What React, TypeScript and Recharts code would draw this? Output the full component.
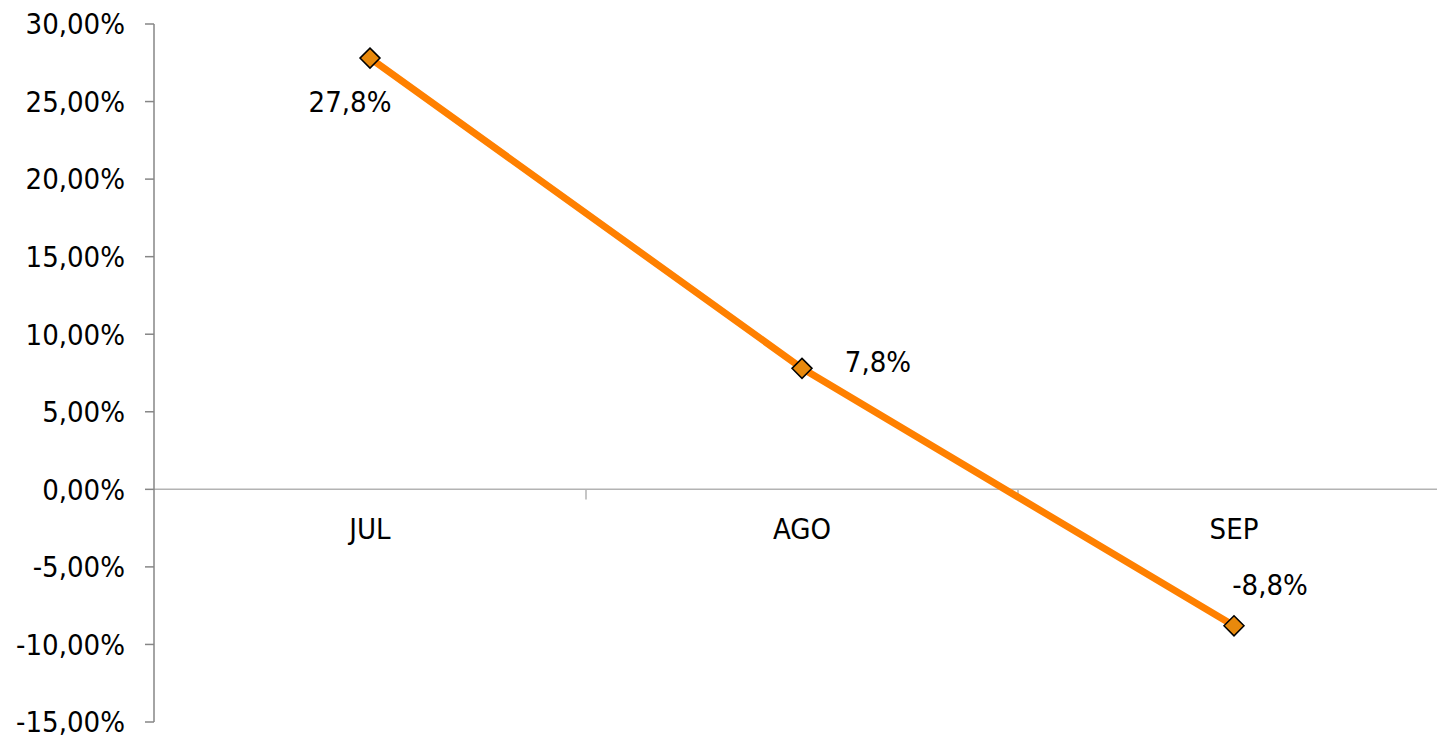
import {
  LineChart,
  Line,
  XAxis,
  YAxis,
  ReferenceLine,
  LabelList,
} from 'recharts';

const months = ['JUL', 'AGO', 'SEP'];
const values = [27.8, 7.8, -8.8];
const yTicks = [-15, -10, -5, 0, 5, 10, 15, 20, 25, 30];
// where each value label sits relative to its point (manual placement in the original)
const labelShift = [
  { dx: -20, dy: 54 },
  { dx: 76, dy: 4 },
  { dx: 36, dy: -31 },
];

const FONT = '"DejaVu Sans Condensed", "DejaVu Sans", sans-serif';
const FONT_SIZE = 29;

const chartData = months.map((m, i) => ({ idx: i, month: m, value: values[i], zero: 0 }));

const fmtAxis = (v: number) => `${v.toFixed(2).replace('.', ',')}%`;
const fmtLabel = (v: number) => `${v.toFixed(1).replace('.', ',')}%`;

function Diamond(props: any) {
  const { cx, cy, index } = props;
  if (cx == null || cy == null) return null;
  const r = 10;
  return (
    <polygon
      key={`dia-${index}`}
      points={`${cx},${cy - r} ${cx + r},${cy} ${cx},${cy + r} ${cx - r},${cy}`}
      fill="#E8890C"
      stroke="#000"
      strokeWidth={1.5}
    />
  );
}

function ValueLabel(props: any) {
  const { x, y, value, index } = props;
  const s = labelShift[index] || { dx: 0, dy: 0 };
  return (
    <text
      x={x + s.dx}
      y={y + s.dy}
      textAnchor="middle"
      fontFamily={FONT}
      fontSize={FONT_SIZE}
      fill="#000"
    >
      {fmtLabel(value)}
    </text>
  );
}

function MonthLabel(props: any) {
  const { x, y, value } = props;
  return (
    <text x={x} y={y + 50} textAnchor="middle" fontFamily={FONT} fontSize={FONT_SIZE} fill="#000">
      {value}
    </text>
  );
}

export default function App() {
  return (
    <div
      style={{
        position: 'absolute',
        left: 0,
        top: 0,
        width: 1437,
        height: 738,
        overflow: 'hidden',
        background: '#fff',
      }}
    >
      <LineChart
        width={1460}
        height={738}
        data={chartData}
        margin={{ top: 24, right: 10, bottom: 16, left: 0 }}
      >
        <XAxis dataKey="idx" type="number" domain={[-0.5, 2.5]} hide />
        <YAxis
          width={154}
          domain={[-15, 30]}
          ticks={yTicks}
          interval={0}
          tickFormatter={fmtAxis}
          axisLine={{ stroke: '#868686', strokeWidth: 1.5 }}
          tickLine={{ stroke: '#868686', strokeWidth: 1.5 }}
          tickSize={9}
          tickMargin={20}
          tick={{ fill: '#000', fontFamily: FONT, fontSize: FONT_SIZE }}
        />
        <ReferenceLine y={0} stroke="#b3b3b3" strokeWidth={1.5} />
        <ReferenceLine
          segment={[
            { x: 0.5, y: 0 },
            { x: 0.5, y: -0.65 },
          ]}
          stroke="#b3b3b3"
          strokeWidth={1.5}
        />
        <ReferenceLine
          segment={[
            { x: 1.5, y: 0 },
            { x: 1.5, y: -0.65 },
          ]}
          stroke="#b3b3b3"
          strokeWidth={1.5}
        />
        <Line
          dataKey="zero"
          stroke="none"
          dot={false}
          activeDot={false}
          isAnimationActive={false}
        >
          <LabelList dataKey="month" content={<MonthLabel />} />
        </Line>
        <Line
          dataKey="value"
          stroke="#FF8000"
          strokeWidth={7}
          dot={(p: any) => <Diamond {...p} key={`dia-${p.index}`} />}
          activeDot={false}
          isAnimationActive={false}
        >
          <LabelList dataKey="value" content={<ValueLabel />} />
        </Line>
      </LineChart>
    </div>
  );
}
